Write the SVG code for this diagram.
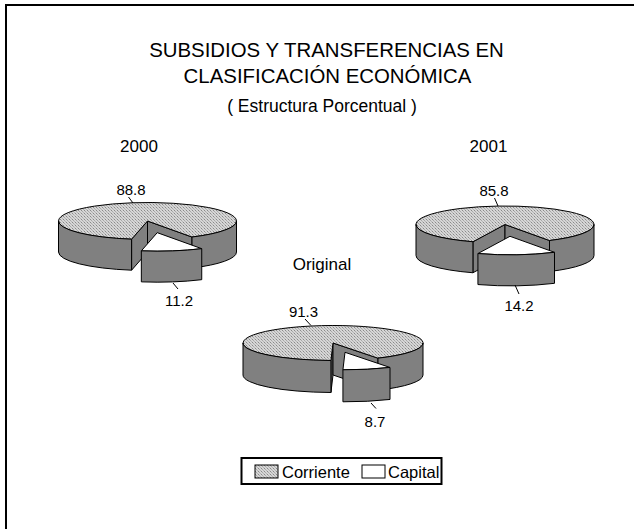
<svg xmlns="http://www.w3.org/2000/svg" width="634" height="529" viewBox="0 0 634 529">
<defs>
<pattern id="dots" width="3" height="3" patternUnits="userSpaceOnUse">
<rect width="3" height="3" fill="#d6d6d6"/>
<rect x="0" y="0" width="1" height="1" fill="#8a8a8a"/>
<rect x="1" y="1" width="1" height="1" fill="#a8a8a8"/>
<rect x="2" y="2" width="1" height="1" fill="#b4b4b4"/>
</pattern>
<style>
.top{fill:url(#dots);stroke:#000;stroke-width:1;stroke-linejoin:round}
.side{fill:#808080;stroke:#000;stroke-width:1;stroke-linejoin:round}
.cap{fill:#ffffff;stroke:#000;stroke-width:1;stroke-linejoin:round}
.lead{stroke:#000;stroke-width:1;fill:none}
text{font-family:"Liberation Sans",Arial,sans-serif;fill:#000}
.title{font-size:20.4px;text-anchor:middle}
.sub{font-size:17.5px;text-anchor:middle}
.yr{font-size:17px;text-anchor:middle}
.val{font-size:15px;text-anchor:middle}
.leg{font-size:16.5px}
</style>
</defs>
<rect width="634" height="529" fill="#ffffff"/>
<path d="M6,535 V5 H640" fill="none" stroke="#000" stroke-width="2"/>

<text class="title" x="326.5" y="57">SUBSIDIOS Y TRANSFERENCIAS EN</text>
<text class="title" x="327.5" y="83">CLASIFICACIÓN ECONÓMICA</text>
<text class="sub" x="322" y="111.5">( Estructura Porcentual )</text>
<text class="yr" x="139" y="151.5">2000</text>
<text class="yr" x="488.5" y="151.5">2001</text>
<text class="yr" x="322" y="270">Original</text>

<g id="pie2000">
<path class="side" d="M147.5,221 L131.59,239.2 L131.59,270.2 L147.5,252 Z"/>
<path class="side" d="M147.5,221 L192,237.02 L192,268.02 L147.5,252 Z"/>
<path class="top" d="M147.5,221 L131.59,239.2 A89,18.5 0 1 1 192,237.02 Z"/>
<path class="side" d="M131.59,239.2 A89,18.5 0 0 1 58.5,221 L58.5,252 A89,18.5 0 0 0 131.59,270.2 Z"/>
<path class="side" d="M236.5,221 A89,18.5 0 0 1 192,237.02 L192,268.02 A89,18.5 0 0 0 236.5,252 Z"/>
<path class="cap" d="M157.24,232.66 L201.74,248.68 A89,18.5 0 0 1 141.33,250.86 Z"/>
<path class="side" d="M201.74,248.68 A89,18.5 0 0 1 141.33,250.86 L141.33,281.86 A89,18.5 0 0 0 201.74,279.68 Z"/>
<line class="lead" x1="128.5" y1="197" x2="133" y2="203"/>
<text class="val" x="131" y="194.5">88.8</text>
<line class="lead" x1="173" y1="283" x2="178" y2="289"/>
<text class="val" x="179" y="306">11.2</text>
</g>

<g id="pie2001">
<path class="side" d="M505,224.5 L472.93,241.76 L472.93,272.76 L505,255.5 Z"/>
<path class="side" d="M505,224.5 L549.5,240.52 L549.5,271.52 L505,255.5 Z"/>
<path class="top" d="M505,224.5 L472.93,241.76 A89,18.5 0 1 1 549.5,240.52 Z"/>
<path class="side" d="M472.93,241.76 A89,18.5 0 0 1 416,224.5 L416,255.5 A89,18.5 0 0 0 472.93,272.76 Z"/>
<path class="side" d="M594,224.5 A89,18.5 0 0 1 549.5,240.52 L549.5,271.52 A89,18.5 0 0 0 594,255.5 Z"/>
<path class="cap" d="M510,236.3 L554.5,252.32 A89,18.5 0 0 1 477.93,253.56 Z"/>
<path class="side" d="M554.5,252.32 A89,18.5 0 0 1 477.93,253.56 L477.93,284.56 A89,18.5 0 0 0 554.5,283.32 Z"/>
<line class="lead" x1="494.5" y1="198" x2="498" y2="206"/>
<text class="val" x="494" y="196">85.8</text>
<line class="lead" x1="515" y1="285" x2="519" y2="294"/>
<text class="val" x="519" y="310.5">14.2</text>
</g>

<g id="pieOriginal">
<path class="side" d="M333,343 L330.93,360.49 L330.93,392.49 L333,375 Z"/>
<path class="side" d="M333,343 L378,358.16 L378,390.16 L333,375 Z"/>
<path class="top" d="M333,343 L330.93,360.49 A90,17.5 0 1 1 378,358.16 Z"/>
<path class="side" d="M330.93,360.49 A90,17.5 0 0 1 243,343 L243,375 A90,17.5 0 0 0 330.93,392.49 Z"/>
<path class="side" d="M423,343 A90,17.5 0 0 1 378,358.16 L378,390.16 A90,17.5 0 0 0 423,375 Z"/>
<path class="cap" d="M345,352.3 L390,367.46 A90,17.5 0 0 1 342.93,369.79 Z"/>
<path class="side" d="M390,367.46 A90,17.5 0 0 1 342.93,369.79 L342.93,401.79 A90,17.5 0 0 0 390,399.46 Z"/>
<line class="lead" x1="305" y1="319" x2="311" y2="325.5"/>
<text class="val" x="303.5" y="316.5">91.3</text>
<line class="lead" x1="371" y1="403" x2="376" y2="408.5"/>
<text class="val" x="375" y="426.5">8.7</text>
</g>

<g id="legend">
<rect x="241.5" y="458" width="200" height="26" fill="#ffffff" stroke="#000" stroke-width="2"/>
<rect x="255" y="465" width="23" height="13" fill="url(#dots)" stroke="#000" stroke-width="1"/>
<text class="leg" x="282" y="477.5">Corriente</text>
<rect x="362" y="465" width="23" height="13" fill="#ffffff" stroke="#000" stroke-width="1"/>
<text class="leg" x="388" y="477.5">Capital</text>
</g>
</svg>
